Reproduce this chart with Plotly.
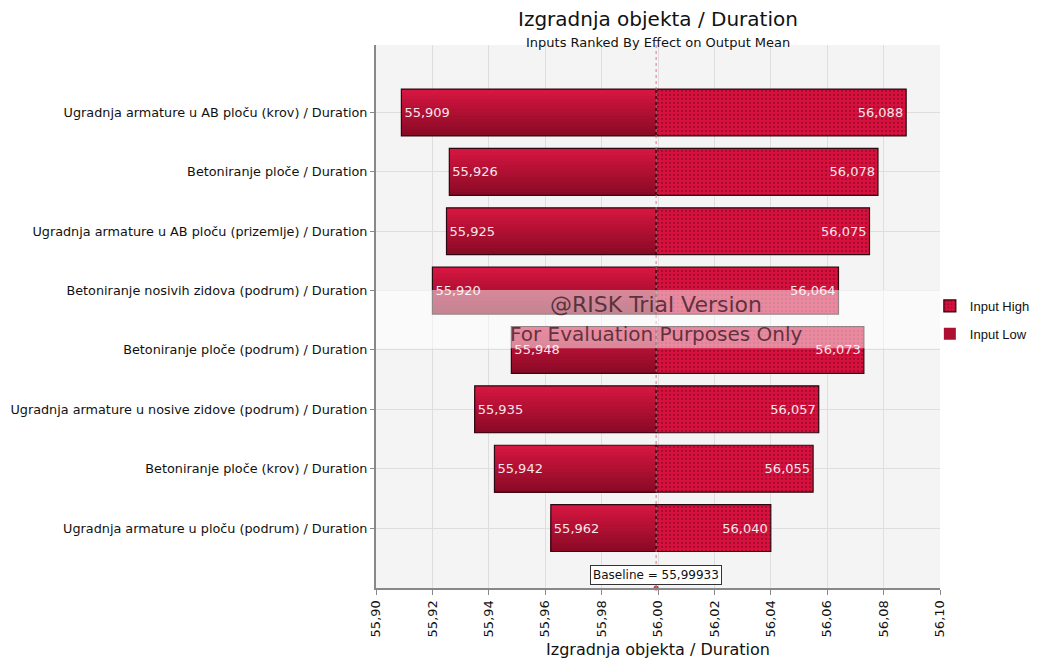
import plotly.graph_objects as go

categories = [
    "Ugradnja armature u AB ploču (krov) / Duration",
    "Betoniranje ploče / Duration",
    "Ugradnja armature u AB ploču (prizemlje) / Duration",
    "Betoniranje nosivih zidova (podrum) / Duration",
    "Betoniranje ploče (podrum) / Duration",
    "Ugradnja armature u nosive zidove (podrum) / Duration",
    "Betoniranje ploče (krov) / Duration",
    "Ugradnja armature u ploču (podrum) / Duration",
]
low_values = [55.909, 55.926, 55.925, 55.920, 55.948, 55.935, 55.942, 55.962]
high_values = [56.088, 56.078, 56.075, 56.064, 56.073, 56.057, 56.055, 56.040]
baseline = 55.99933
x_ticks = [55.90, 55.92, 55.94, 55.96, 55.98, 56.00, 56.02, 56.04, 56.06, 56.08, 56.10]

FONT = "DejaVu Sans"
fmt = lambda v: f"{v:.3f}".replace(".", ",")
pos = list(range(len(categories)))
W = 0.79

fig = go.Figure()

# gradient strips for the low bars (each strip reaches to the bar bottom, later ones overlap)
n = 14
top = (214, 22, 64)
bot = (138, 10, 38)
for k in range(n):
    t = k / (n - 1)
    c = tuple(round(top[j] + (bot[j] - top[j]) * t) for j in range(3))
    fig.add_trace(go.Bar(
        y=pos, x=[v - baseline for v in low_values], base=baseline,
        orientation="h", width=W - k * W / n, offset=-W / 2 + k * W / n,
        marker=dict(color=f"rgb{c}", line=dict(width=0)),
        name="Input Low", showlegend=(k == n // 2), legendrank=2,
        legendgroup="low", hoverinfo="skip",
    ))

# outline + labels for low bars
fig.add_trace(go.Bar(
    y=pos, x=[v - baseline for v in low_values], base=baseline,
    orientation="h", width=W,
    marker=dict(color="rgba(0,0,0,0)", line=dict(color="#2a0a10", width=1.2)),
    text=[fmt(v) for v in low_values], textposition="inside",
    insidetextanchor="end", textfont=dict(color="#f7e6ea", size=13, family=FONT),
    showlegend=False, constraintext="none", legendgroup="low",
))

# high bars (dotted pattern)
fig.add_trace(go.Bar(
    y=pos, x=[v - baseline for v in high_values], base=baseline,
    orientation="h", width=W, name="Input High", legendrank=1, legendgroup="high",
    marker=dict(color="#d8103f", line=dict(color="#2a0a10", width=1.2),
                pattern=dict(shape=".", fgcolor="#6e0818", size=4, solidity=0.25)),
    text=[fmt(v) for v in high_values], textposition="inside",
    insidetextanchor="end", textfont=dict(color="#f7e6ea", size=13, family=FONT),
    constraintext="none",
))

# baseline marker dot on the x axis
fig.add_trace(go.Scatter(
    x=[baseline], y=[8.01], mode="markers", cliponaxis=False, showlegend=False,
    marker=dict(size=5, color="#c8304c"), hoverinfo="skip",
))

fig.update_layout(
    width=1029, height=654,
    margin=dict(l=368, r=97, t=37, b=74, autoexpand=False),
    barmode="overlay",
    paper_bgcolor="white", plot_bgcolor="#f4f4f4",
    font=dict(family=FONT, size=13, color="#111"),
    legend=dict(x=0.982, y=0.547, xanchor="left", yanchor="top",
                font=dict(size=13, family="Liberation Sans", color="#111"),
                bgcolor="rgba(0,0,0,0)", itemwidth=30, tracegroupgap=8),
    xaxis=dict(range=[55.90, 56.10], tickvals=x_ticks,
               ticktext=[f"{v:.2f}".replace(".", ",") for v in x_ticks],
               tickangle=-90, ticks="outside", ticklen=5, tickcolor="#888",
               showgrid=True, gridcolor="#dedede", zeroline=False,
               showline=True, linecolor="#888", linewidth=2,
               tickfont=dict(size=13, family=FONT, color="#111"),
               title=dict(text="Izgradnja objekta / Duration",
                          font=dict(size=16, family=FONT, color="#111"), standoff=7)),
    yaxis=dict(range=[8.01, -1.137], tickvals=pos, ticktext=categories,
               ticks="outside", ticklen=4, tickcolor="#888",
               showgrid=True, gridcolor="#dedede", zeroline=False,
               showline=True, linecolor="#888", linewidth=2,
               tickfont=dict(size=12.8, family=FONT, color="#111")),
)

# baseline dotted line
fig.add_shape(type="line", xref="x", yref="paper", x0=baseline, x1=baseline, y0=0, y1=1,
              line=dict(color="#ee6f8a", width=1, dash="dot"), layer="above")

# watermark band
fig.add_shape(type="rect", xref="paper", yref="y", x0=0, x1=1, y0=2.99, y1=3.97,
              fillcolor="rgba(255,255,255,0.5)", line=dict(width=0), layer="above")

fig.add_annotation(x=baseline, y=3.23, xref="x", yref="y", text="@RISK Trial Version",
                   showarrow=False, font=dict(size=22, family=FONT, color="rgba(70,35,45,0.85)"))
fig.add_annotation(x=baseline, y=3.73, xref="x", yref="y", text="For Evaluation Purposes Only",
                   showarrow=False, font=dict(size=20, family=FONT, color="rgba(70,35,45,0.85)"))

# baseline box
fig.add_annotation(x=baseline, y=7.79, xref="x", yref="y",
                   text=f"Baseline = {baseline:.5f}".replace(".", ","),
                   showarrow=False, bgcolor="white", bordercolor="#333", borderwidth=1,
                   borderpad=2, font=dict(size=12, family=FONT, color="#111"))

# titles
fig.add_annotation(x=0.5, y=1, xref="paper", yref="paper", yshift=40, text="Izgradnja objekta / Duration",
                   showarrow=False, font=dict(size=20, family=FONT, color="#111"))
fig.add_annotation(x=0.5, y=1, xref="paper", yref="paper", yshift=12,
                   text="Inputs Ranked By Effect on Output Mean",
                   showarrow=False, font=dict(size=13, family=FONT, color="#111"))

fig.write_html("out.html")
